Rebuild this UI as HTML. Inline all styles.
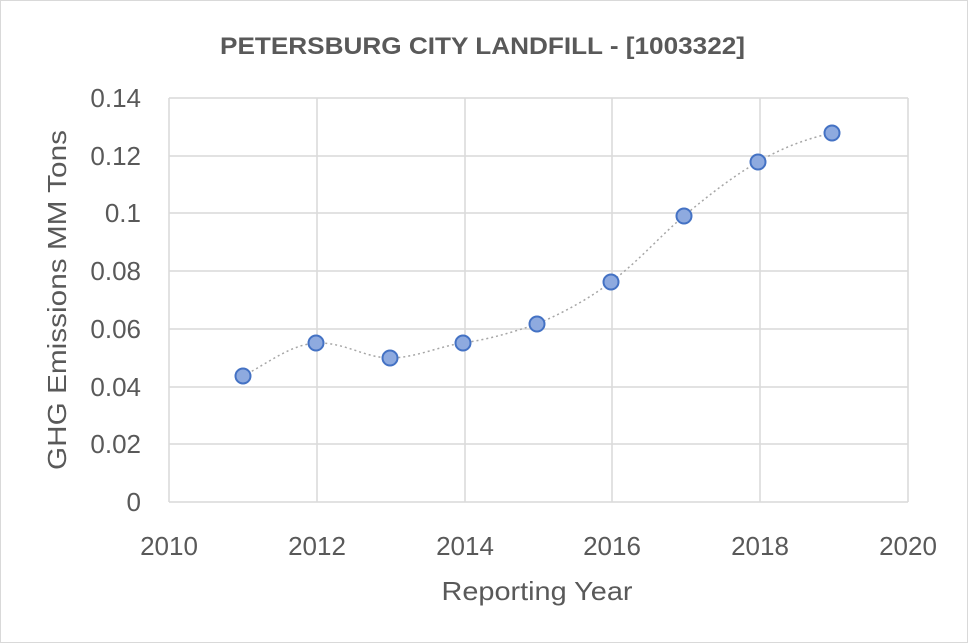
<!DOCTYPE html>
<html><head><meta charset="utf-8"><style>
body{margin:0;background:#fff}
svg{display:block;font-family:"Liberation Sans",sans-serif}
</style></head><body>
<svg width="968" height="643" viewBox="0 0 968 643">
<rect x="0.5" y="0.5" width="967" height="642" fill="#fff" stroke="#d9d9d9"/>
<text x="220" y="54" font-size="24" font-weight="bold" fill="#595959" textLength="525" lengthAdjust="spacingAndGlyphs">PETERSBURG CITY LANDFILL - [1003322]</text>
<g stroke="#d9d9d9" stroke-width="1.5">
<line x1="169" y1="98" x2="908" y2="98"/><line x1="169" y1="156" x2="908" y2="156"/>
<line x1="169" y1="213" x2="908" y2="213"/><line x1="169" y1="271" x2="908" y2="271"/>
<line x1="169" y1="329" x2="908" y2="329"/><line x1="169" y1="387" x2="908" y2="387"/>
<line x1="169" y1="444" x2="908" y2="444"/><line x1="169" y1="502" x2="908" y2="502"/>
<line x1="169" y1="98" x2="169" y2="502"/><line x1="317" y1="98" x2="317" y2="502"/>
<line x1="465" y1="98" x2="465" y2="502"/><line x1="612" y1="98" x2="612" y2="502"/>
<line x1="760" y1="98" x2="760" y2="502"/><line x1="908" y1="98" x2="908" y2="502"/>
</g>
<g font-size="26" fill="#595959" text-anchor="end">
<text x="141" y="107">0.14</text><text x="141" y="165">0.12</text><text x="141" y="222">0.1</text>
<text x="141" y="280">0.08</text><text x="141" y="338">0.06</text><text x="141" y="396">0.04</text>
<text x="141" y="453">0.02</text><text x="141" y="511">0</text>
</g>
<g font-size="26" fill="#595959" text-anchor="middle">
<text x="169" y="555">2010</text><text x="317" y="555">2012</text><text x="465" y="555">2014</text>
<text x="612" y="555">2016</text><text x="760" y="555">2018</text><text x="908" y="555">2020</text>
<text x="537" y="600" textLength="191" lengthAdjust="spacingAndGlyphs">Reporting Year</text>
<text transform="translate(66,300) rotate(-90)" textLength="340" lengthAdjust="spacingAndGlyphs">GHG Emissions MM Tons</text>
</g>
<path d="M243,376 C270,362 290,345 316,343 C345,342 365,358 390,358 C415,358 440,346 463,343 C490,339 510,333 537,324 C565,312 590,298 611,282 C640,260 660,236 684,216 C710,194 735,175 758,162 C785,146 810,138 832,133" fill="none" stroke="#a6a6a6" stroke-width="1.5" stroke-dasharray="2,3"/>
<g fill="#8eaadf" stroke="#4472c4" stroke-width="2">
<circle cx="243" cy="376" r="7.5"/><circle cx="316" cy="343" r="7.5"/><circle cx="390" cy="358" r="7.5"/>
<circle cx="463" cy="343" r="7.5"/><circle cx="537" cy="324" r="7.5"/><circle cx="611" cy="282" r="7.5"/>
<circle cx="684" cy="216" r="7.5"/><circle cx="758" cy="162" r="7.5"/><circle cx="832" cy="133" r="7.5"/>
</g>
</svg>
</body></html>
